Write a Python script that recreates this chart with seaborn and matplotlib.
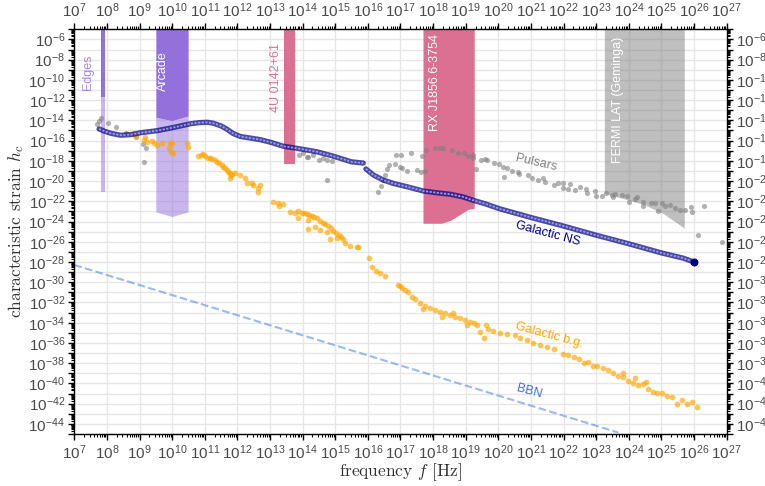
import numpy as np
import matplotlib
matplotlib.use("Agg")
import matplotlib.pyplot as plt
import matplotlib.ticker as mticker
import seaborn as sns

# all values are log10 exponents: (log10 f, log10 h_c)

# Galactic neutron stars, two pieces with a small gap near 1e16 Hz
ns_part1 = [(7.76, -14.85), (7.95, -15.10), (8.12, -15.28), (8.42, -15.47), (8.73, -15.41),
            (9.04, -15.22), (9.54, -15.02), (10.06, -14.69), (10.57, -14.33), (10.85, -14.22),
            (11.08, -14.19), (11.26, -14.28), (11.50, -14.55), (11.67, -14.85), (11.87, -15.30),
            (12.10, -15.60), (12.40, -15.75), (12.69, -15.90), (13.00, -16.15), (13.40, -16.55),
            (13.90, -16.80), (14.43, -17.10), (14.90, -17.50), (15.25, -17.85), (15.50, -18.10),
            (15.86, -18.22)]
ns_part2 = [(15.94, -18.80), (16.17, -19.40), (16.47, -19.90), (16.80, -20.25), (17.19, -20.55),
            (17.70, -20.98), (18.10, -21.15), (18.52, -21.30), (18.90, -21.55), (19.23, -21.90),
            (19.60, -22.25), (20.05, -22.75), (21.00, -23.60), (22.00, -24.45), (23.00, -25.35),
            (24.00, -26.20), (25.00, -27.10), (25.67, -27.62), (26.00, -28.00)]

pulsars = [(7.71, -14.39), (7.76, -14.08), (7.82, -13.78), (8.03, -14.29), (8.28, -14.62),
           (8.58, -15.25), (8.90, -15.69), (9.10, -16.33), (9.19, -16.73), (9.15, -18.08),
           (13.88, -17.42), (14.02, -17.25), (14.12, -17.65), (14.17, -17.59), (14.33, -17.40),
           (14.51, -17.91), (14.63, -17.75), (14.74, -17.91), (14.89, -17.99), (14.74, -19.93),
           (16.32, -21.05), (16.39, -20.48), (16.45, -19.90), (16.53, -19.40), (16.60, -18.83),
           (16.66, -18.41), (16.83, -18.34), (16.86, -17.42), (17.01, -17.42), (16.98, -18.57),
           (17.04, -18.74), (17.19, -18.97), (17.31, -17.25), (17.50, -18.90), (17.62, -19.07),
           (17.65, -17.52), (17.76, -18.97), (17.78, -16.93), (18.06, -16.76), (18.21, -16.70),
           (18.29, -16.70), (18.57, -16.93), (18.77, -17.19), (18.95, -17.25), (19.08, -17.49),
           (19.21, -17.42), (19.23, -17.75), (19.31, -18.83), (19.46, -17.91), (19.59, -17.85),
           (19.64, -17.95), (19.87, -18.18), (20.03, -18.36), (20.15, -18.57), (20.17, -19.63),
           (20.26, -18.74), (20.41, -18.97), (20.61, -19.07), (20.64, -19.30), (20.92, -19.40),
           (21.02, -19.73), (21.22, -19.90), (21.38, -19.73), (21.43, -20.06), (21.71, -20.39),
           (21.84, -20.16), (21.97, -20.71), (21.99, -20.22), (22.14, -20.81), (22.20, -20.29),
           (22.35, -20.88), (22.50, -20.55), (22.69, -20.81), (22.71, -21.20), (22.96, -20.95),
           (22.99, -21.47), (23.17, -21.47), (23.30, -21.14), (23.47, -21.37), (23.52, -21.60),
           (23.58, -21.27), (23.78, -21.37), (23.93, -21.47), (24.01, -22.03), (24.19, -21.80),
           (24.26, -21.60), (24.42, -22.43), (24.44, -22.03), (24.67, -22.19), (24.80, -22.19),
           (24.88, -22.92), (25.01, -22.19), (25.11, -22.43), (25.26, -22.36), (25.42, -22.69),
           (25.57, -22.86), (25.72, -22.86), (25.91, -22.53), (25.94, -23.03), (26.30, -22.46),
           (26.13, -25.30), (26.85, -26.00)]

galactic_bg = [(8.81, -15.35), (8.88, -15.54), (9.16, -15.67), (9.14, -15.94), (9.24, -16.10),
               (9.39, -16.00), (9.44, -16.27), (9.53, -16.43), (9.70, -16.27), (9.93, -16.27),
               (10.00, -16.27), (9.90, -16.76), (9.97, -17.10), (10.03, -17.25), (10.46, -16.27),
               (10.49, -16.60), (10.80, -17.52), (10.88, -17.45), (10.95, -17.32), (11.02, -17.55),
               (11.10, -17.68), (11.16, -17.75), (11.22, -17.85), (11.30, -17.95), (11.37, -18.08),
               (11.45, -18.25), (11.52, -18.40), (11.57, -18.57), (11.63, -18.72), (11.68, -18.88),
               (11.72, -19.07), (11.76, -19.25), (11.79, -19.40), (11.77, -19.73), (11.85, -19.30),
               (11.93, -19.23), (12.08, -19.40), (12.23, -19.73), (12.29, -20.22), (12.44, -20.22),
               (12.49, -20.39), (12.69, -20.39), (12.64, -20.71), (12.64, -21.05), (13.10, -22.03),
               (13.25, -22.13), (13.28, -22.46), (13.41, -22.26), (13.61, -23.03), (13.77, -23.13),
               (13.87, -22.92), (13.97, -23.13), (14.05, -23.18), (14.12, -23.25), (14.20, -23.35),
               (14.28, -23.45), (14.35, -23.55), (14.43, -23.68), (14.53, -23.90), (14.63, -24.11),
               (14.70, -24.25), (14.79, -24.44), (14.86, -24.65), (14.94, -24.90), (15.02, -25.10),
               (15.10, -25.33), (15.18, -25.55), (15.25, -25.76), (15.45, -26.42), (13.87, -23.68),
               (14.17, -23.85), (14.17, -24.76), (14.38, -24.56), (14.53, -24.83), (14.74, -25.00),
               (14.84, -25.76), (15.04, -25.66), (15.30, -26.15), (15.66, -26.48), (15.71, -26.54),
               (16.03, -27.63), (16.12, -28.46), (16.25, -28.85), (16.37, -29.11), (16.52, -29.38),
               (16.93, -30.27), (16.98, -30.40), (17.05, -30.55), (17.14, -30.76), (17.22, -31.00),
               (17.34, -31.42), (17.45, -31.70), (17.60, -32.08), (17.75, -32.35), (17.90, -32.57),
               (18.05, -32.75), (18.21, -32.90), (18.36, -33.05), (18.52, -33.23), (18.67, -33.40),
               (18.82, -33.56), (18.97, -33.72), (19.13, -33.89), (19.25, -34.05), (19.34, -34.22),
               (19.44, -34.88), (19.57, -35.47), (19.62, -34.22), (19.69, -34.65), (17.70, -32.67),
               (18.26, -33.40), (18.62, -33.00), (19.03, -34.22), (19.85, -34.81), (20.05, -34.99),
               (20.26, -35.10), (20.51, -35.20), (20.66, -35.53), (20.87, -35.70), (21.07, -36.00),
               (21.28, -36.20), (21.50, -36.40), (21.70, -36.57), (21.97, -37.09), (22.14, -37.18),
               (22.32, -37.41), (22.47, -37.61), (22.63, -37.94), (22.76, -37.91), (22.91, -38.24),
               (23.01, -38.27), (23.22, -38.44), (23.37, -38.67), (23.52, -38.93), (23.68, -39.26),
               (23.83, -39.00), (23.81, -39.39), (23.98, -39.72), (24.14, -39.92), (24.19, -39.43),
               (24.29, -40.15), (24.42, -40.05), (24.53, -39.82), (24.60, -40.58), (24.73, -40.81),
               (24.87, -40.97), (25.03, -40.97), (25.18, -41.21), (25.32, -41.37), (25.47, -42.06),
               (25.62, -41.63), (25.78, -42.03), (25.93, -41.86), (26.08, -42.35)]

bbn_line = [(7.0, -28.29), (23.68, -44.86)]

# exclusion bands: x edges, lower edge of dark part, lower edge of light part
edges_logf = [7.82, 7.95]
edges_dark = [-11.66, -11.66]
edges_light = [-21.1, -21.1]
arcade_logf = [9.50, 9.99, 10.49]
arcade_dark = [-13.70, -14.03, -13.57]
arcade_light = [-23.05, -23.50, -23.05]
u4_logf = [13.44, 13.77]
u4_low = [-18.34, -18.34]
rx_logf = [17.69, 18.26, 18.52, 18.72, 18.93, 19.08, 19.26]
rx_low = [-24.17, -24.17, -23.90, -23.52, -23.08, -22.79, -22.69]
fermi_logf = [23.25, 24.45, 25.05, 25.70]
fermi_low = [-21.2, -22.3, -23.2, -24.65]

y_top, y_bottom = 1e-5, 1e-45
x_left, x_right = 1e7, 1e27


def split(points):
    arr = np.array(points)
    return 10 ** arr[:, 0], 10 ** arr[:, 1]


sns.set_style("ticks")
plt.rcParams["font.family"] = ["Liberation Sans", "DejaVu Sans"]
plt.rcParams["mathtext.fontset"] = "custom"
plt.rcParams["mathtext.rm"] = "Liberation Sans"
plt.rcParams["mathtext.it"] = "Liberation Sans:italic"
plt.rcParams["mathtext.bf"] = "Liberation Sans:bold"

fig = plt.figure(figsize=(7.65, 4.86), dpi=100)
ax = fig.add_axes([0.0971, 0.107, 0.8528, 0.8327])
ax.set_xscale("log")
ax.set_yscale("log")

purple = "mediumpurple"
pink = "palevioletred"

# bands
ef = 10 ** np.array(edges_logf)
ax.fill_between(ef, 10 ** np.array(edges_dark), y_top, color=purple, lw=0, zorder=1)
ax.fill_between(ef, 10 ** np.array(edges_light), 10 ** np.array(edges_dark), color=purple, alpha=0.5, lw=0, zorder=1)
af = 10 ** np.array(arcade_logf)
ax.fill_between(af, 10 ** np.array(arcade_dark), y_top, color=purple, lw=0, zorder=1)
ax.fill_between(af, 10 ** np.array(arcade_light), 10 ** np.array(arcade_dark), color=purple, alpha=0.5, lw=0, zorder=1)
ax.fill_between(10 ** np.array(u4_logf), 10 ** np.array(u4_low), y_top, color=pink, lw=0, zorder=1)
ax.fill_between(10 ** np.array(rx_logf), 10 ** np.array(rx_low), y_top, color=pink, lw=0, zorder=1)
ax.fill_between(10 ** np.array(fermi_logf), 10 ** np.array(fermi_low), y_top, color="grey", alpha=0.5, lw=0, zorder=1)

# BBN
bx, by = split(bbn_line)
sns.lineplot(x=bx, y=by, ax=ax, color="cornflowerblue", alpha=0.65, lw=1.5, linestyle="--", zorder=2)

# scatter sets
px, py = split(pulsars)
sns.scatterplot(x=px, y=py, ax=ax, color="grey", alpha=0.6, s=14, linewidth=0, zorder=3)
gx, gy = split(galactic_bg)
sns.scatterplot(x=gx, y=gy, ax=ax, color="orange", alpha=0.65, s=17, linewidth=0, zorder=3)

# galactic NS: dark tube with a dotted light core, looks like a chain of rings
for part in (ns_part1, ns_part2):
    nx, ny = split(part)
    sns.lineplot(x=nx, y=ny, ax=ax, sort=False, color="navy", alpha=0.7, lw=3.8, zorder=4)
    sns.lineplot(x=nx, y=ny, ax=ax, sort=False, color="#9a9ae6", lw=1.3, linestyle=(0, (1.2, 0.8)), zorder=4)
ax.scatter([nx[-1]], [ny[-1]], color="navy", s=22, marker="o", zorder=5)

# labels
lab = dict(fontsize=9, ha="center", va="center")
ax.text(10 ** 7.43, 10 ** -9.27, "Edges", rotation=90, color="#a58ae6", **lab)
ax.text(10 ** 9.73, 10 ** -9.12, "Arcade", rotation=90, color="white", **lab)
ax.text(10 ** 13.18, 10 ** -9.76, "4U 0142+61", rotation=90, color=pink, **lab)
ax.text(10 ** 18.06, 10 ** -10.26, "RX J1856.6-3754", rotation=90, color="white", **lab)
ax.text(10 ** 23.67, 10 ** -11.99, "FERMI LAT (Geminga)", rotation=90, color="white", **lab)
ax.text(10 ** 21.15, 10 ** -18.21, "Pulsars", rotation=-13, color="grey", **lab)
ax.text(10 ** 21.52, 10 ** -25.23, "Galactic NS", rotation=-15, color="navy", **lab)
ax.text(10 ** 21.55, 10 ** -35.2, "Galactic b.g.", rotation=-15, color="orange", **lab)
ax.text(10 ** 20.94, 10 ** -40.83, "BBN", rotation=-15, color="royalblue", **lab)

ax.set_xlim(x_left, x_right)
ax.set_ylim(y_bottom, y_top)


def dec_label(v, pos):
    e = int(round(np.log10(v)))
    return r"$\mathdefault{10^{%d}}$" % e


def even_label(v, pos):
    e = int(round(np.log10(v)))
    if e % 2:
        return ""
    return r"$\mathdefault{10^{%d}}$" % e


ax.xaxis.set_major_locator(mticker.LogLocator(base=10, numticks=40))
ax.xaxis.set_minor_locator(mticker.LogLocator(base=10, subs=np.arange(2, 10), numticks=40))
ax.xaxis.set_major_formatter(mticker.FuncFormatter(dec_label))
ax.xaxis.set_minor_formatter(mticker.NullFormatter())
ax.yaxis.set_major_locator(mticker.LogLocator(base=10, numticks=60))
ax.yaxis.set_minor_locator(mticker.LogLocator(base=10, subs=np.arange(2, 10), numticks=60))
ax.yaxis.set_major_formatter(mticker.FuncFormatter(even_label))
ax.yaxis.set_minor_formatter(mticker.NullFormatter())

ax.tick_params(which="both", top=True, right=True, labeltop=True, labelright=True,
               direction="out", color="black", labelcolor="#4a4a4a", labelsize=11)
ax.tick_params(which="major", length=4, width=1, pad=2.5)
ax.tick_params(which="minor", length=2.5, width=0.8)
for s in ax.spines.values():
    s.set_color("black")
    s.set_linewidth(1)

ax.grid(True, which="major", color="#e6e6e6", lw=1)
ax.set_axisbelow(True)

ax.set_xlabel(r"frequency $f$ [Hz]", fontfamily="cmr10", math_fontfamily="cm", fontsize=12.5, color="#333333", labelpad=0)
ax.set_ylabel(r"characteristic strain $h_c$", fontfamily="cmr10", math_fontfamily="cm", fontsize=12.5, color="#333333", labelpad=2)

fig.savefig("out.png", dpi=100)
